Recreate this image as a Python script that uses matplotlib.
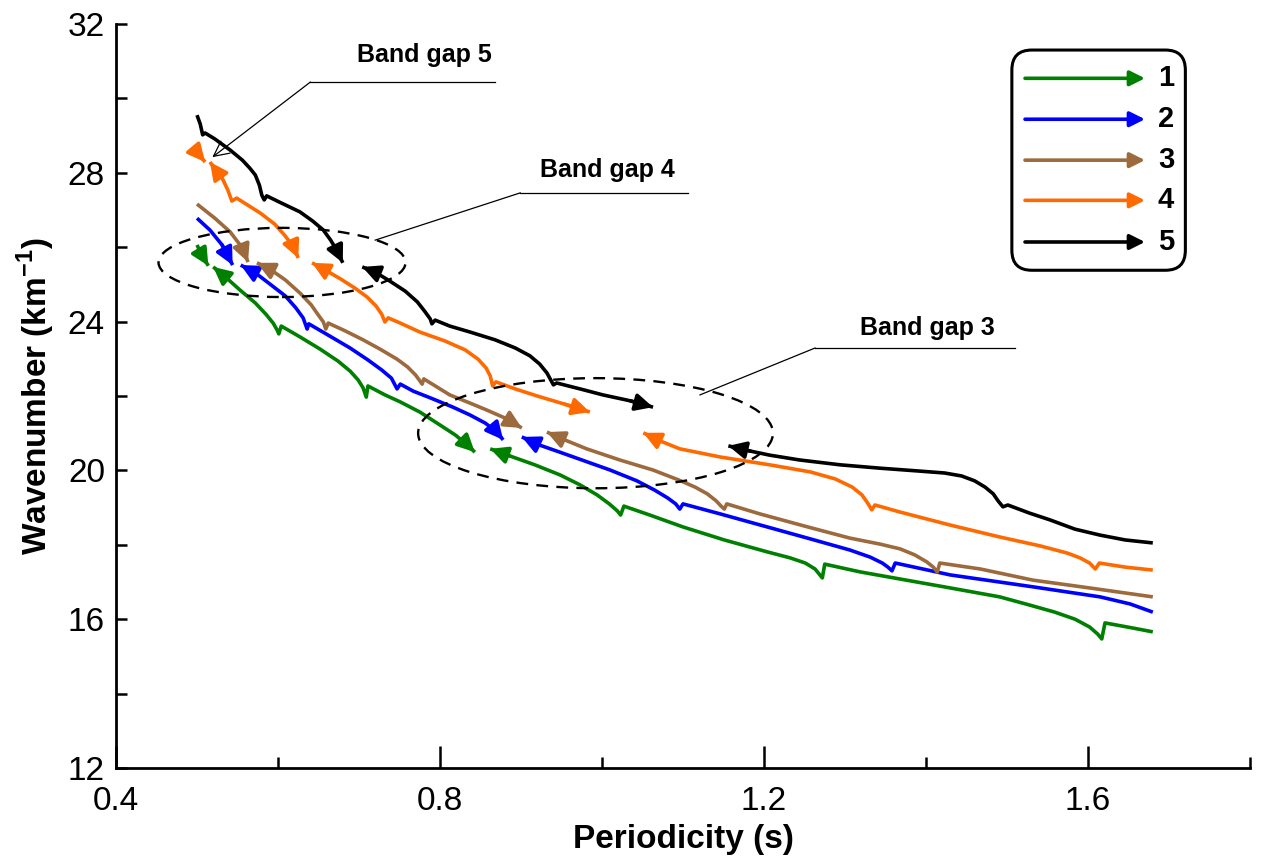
import matplotlib
matplotlib.use('Agg')
import matplotlib.pyplot as plt
from matplotlib.patches import Ellipse, FancyBboxPatch
from matplotlib.ticker import MultipleLocator

plt.rcParams['font.family'] = ['Liberation Sans', 'DejaVu Sans']
plt.rcParams['mathtext.fontset'] = 'custom'
plt.rcParams['mathtext.rm'] = 'Liberation Sans'
plt.rcParams['mathtext.bf'] = 'Liberation Sans:bold'

# ---------------- data (segments separated by band gaps) ----------------
labels = ['1', '2', '3', '4', '5']
colors = ['#008000', '#0000ff', '#9c6a3c', '#ff6a00', '#000000']

x1 = [[0.500, 0.506, 0.514],
      [0.520, 0.535, 0.553, 0.572, 0.585, 0.594, 0.599, 0.601, 0.604, 0.627, 0.652, 0.674, 0.689,
       0.699, 0.705, 0.709, 0.711, 0.732, 0.751, 0.775, 0.800, 0.819, 0.835, 0.843],
      [0.862, 0.886, 0.917, 0.948, 0.973, 0.994, 1.009, 1.019, 1.023, 1.027, 1.059, 1.100, 1.151,
       1.204, 1.232, 1.251, 1.263, 1.272, 1.275, 1.319, 1.368, 1.430, 1.491, 1.528, 1.559, 1.584,
       1.602, 1.612, 1.617, 1.621, 1.656, 1.680]]
y1 = [[26.06, 25.79, 25.50],
      [25.47, 25.20, 24.85, 24.50, 24.20, 23.96, 23.77, 23.67, 23.88, 23.59, 23.26, 22.94, 22.67,
       22.43, 22.22, 21.97, 22.27, 22.03, 21.84, 21.57, 21.22, 20.95, 20.66, 20.49],
      [20.58, 20.39, 20.15, 19.88, 19.61, 19.34, 19.10, 18.91, 18.80, 19.04, 18.80, 18.48, 18.13,
       17.81, 17.65, 17.51, 17.35, 17.11, 17.48, 17.27, 17.08, 16.84, 16.60, 16.38, 16.19, 16.00,
       15.79, 15.60, 15.47, 15.90, 15.76, 15.66]]

x2 = [[0.500, 0.516, 0.531, 0.544],
      [0.554, 0.572, 0.590, 0.609, 0.622, 0.631, 0.636, 0.638, 0.664, 0.689, 0.711, 0.728, 0.740,
       0.747, 0.751, 0.767, 0.788, 0.816, 0.837, 0.856, 0.870, 0.878],
      [0.901, 0.923, 0.948, 0.979, 1.010, 1.043, 1.065, 1.081, 1.091, 1.096, 1.100, 1.146, 1.204,
       1.257, 1.306, 1.331, 1.346, 1.353, 1.358, 1.362, 1.430, 1.532, 1.615, 1.652, 1.680]]
y2 = [[26.78, 26.46, 26.06, 25.52],
      [25.52, 25.31, 25.01, 24.69, 24.37, 24.10, 23.80, 23.94, 23.61, 23.29, 22.97, 22.70, 22.48,
       22.19, 22.32, 22.13, 21.95, 21.70, 21.49, 21.27, 21.03, 20.82],
      [20.90, 20.68, 20.49, 20.25, 20.01, 19.72, 19.47, 19.26, 19.10, 18.96, 19.10, 18.83, 18.48,
       18.16, 17.86, 17.67, 17.51, 17.40, 17.30, 17.51, 17.19, 16.87, 16.60, 16.41, 16.19]]

x3 = [[0.500, 0.522, 0.541, 0.556, 0.563],
      [0.574, 0.590, 0.609, 0.627, 0.641, 0.649, 0.656, 0.659, 0.662, 0.683, 0.705, 0.726, 0.747,
       0.760, 0.770, 0.778, 0.780, 0.812, 0.837, 0.858, 0.880, 0.901],
      [0.932, 0.954, 0.981, 1.022, 1.063, 1.095, 1.115, 1.130, 1.141, 1.147, 1.151, 1.154, 1.195,
       1.254, 1.306, 1.343, 1.368, 1.386, 1.401, 1.409, 1.414, 1.417, 1.467, 1.532, 1.602, 1.680]]
y3 = [[27.16, 26.78, 26.41, 25.98, 25.60],
      [25.58, 25.41, 25.12, 24.77, 24.45, 24.20, 23.99, 23.80, 23.96, 23.75, 23.51, 23.26, 22.99,
       22.78, 22.56, 22.32, 22.46, 22.03, 21.81, 21.62, 21.41, 21.14],
      [21.03, 20.82, 20.58, 20.28, 20.01, 19.74, 19.55, 19.37, 19.18, 19.04, 18.96, 19.10, 18.83,
       18.48, 18.18, 18.02, 17.89, 17.73, 17.54, 17.40, 17.27, 17.51, 17.35, 17.05, 16.84, 16.60]]

x4 = [[0.500, 0.505, 0.510],
      [0.516, 0.523, 0.531, 0.538, 0.543, 0.549, 0.578, 0.596, 0.609, 0.619, 0.625],
      [0.642, 0.658, 0.677, 0.695, 0.710, 0.721, 0.728, 0.732, 0.736, 0.751, 0.775, 0.806, 0.831,
       0.847, 0.857, 0.862, 0.865, 0.869, 0.893, 0.920, 0.954, 0.985],
      [1.051, 1.072, 1.096, 1.146, 1.207, 1.257, 1.288, 1.309, 1.321, 1.328, 1.333, 1.337, 1.368,
       1.430, 1.491, 1.541, 1.574, 1.590, 1.602, 1.609, 1.614, 1.646, 1.680]]
y4 = [[28.56, 28.42, 28.29],
      [28.29, 28.08, 27.86, 27.54, 27.24, 27.32, 26.92, 26.62, 26.30, 26.01, 25.71],
      [25.58, 25.39, 25.15, 24.90, 24.66, 24.42, 24.20, 23.99, 24.10, 23.96, 23.72, 23.48, 23.24,
       22.99, 22.75, 22.54, 22.27, 22.38, 22.19, 22.00, 21.78, 21.57],
      [21.01, 20.79, 20.58, 20.36, 20.15, 19.96, 19.77, 19.55, 19.34, 19.12, 18.94, 19.07, 18.88,
       18.53, 18.21, 17.97, 17.78, 17.65, 17.51, 17.35, 17.51, 17.40, 17.32]]

x5 = [[0.500, 0.504, 0.507, 0.510, 0.522, 0.541, 0.556, 0.565, 0.572, 0.577, 0.580, 0.583, 0.586,
       0.602, 0.627, 0.643, 0.656, 0.665, 0.673, 0.680],
      [0.704, 0.720, 0.738, 0.757, 0.772, 0.781, 0.788, 0.790, 0.794, 0.812, 0.837, 0.868, 0.893,
       0.911, 0.923, 0.932, 0.940, 0.944, 0.973, 1.001, 1.035, 1.063],
      [1.156, 1.183, 1.207, 1.244, 1.294, 1.343, 1.393, 1.423, 1.444, 1.460, 1.473, 1.483, 1.489,
       1.495, 1.501, 1.528, 1.553, 1.584, 1.615, 1.646, 1.680]]
y5 = [[29.55, 29.31, 29.02, 29.07, 28.91, 28.61, 28.34, 28.13, 27.94, 27.67, 27.40, 27.27, 27.38,
       27.21, 26.95, 26.70, 26.46, 26.19, 25.90, 25.58],
      [25.47, 25.33, 25.09, 24.82, 24.53, 24.28, 24.07, 23.94, 24.04, 23.88, 23.72, 23.51, 23.29,
       23.08, 22.86, 22.62, 22.30, 22.35, 22.19, 22.03, 21.87, 21.70],
      [20.66, 20.52, 20.41, 20.28, 20.15, 20.06, 19.98, 19.93, 19.85, 19.72, 19.55, 19.37, 19.18,
       19.02, 19.07, 18.85, 18.67, 18.42, 18.26, 18.13, 18.05]]

gap_labels = ['Band gap 5', 'Band gap 4', 'Band gap 3']

# ---------------- figure ----------------
fig = plt.figure(figsize=(12.67, 8.61), dpi=100)
ax = fig.add_axes([116 / 1267, 93 / 861, 1134 / 1267, 744 / 861])
ax.set_xlim(0.4, 1.8)
ax.set_ylim(12, 32)

all_x = [x1, x2, x3, x4, x5]
all_y = [y1, y2, y3, y4, y5]
LW = 2.6


def head(xy, xyt, c, ms=16):
    ax.annotate('', xy=xy, xytext=xyt,
                arrowprops=dict(arrowstyle='-|>,head_length=0.65,head_width=0.32',
                                mutation_scale=ms, color=c, lw=LW,
                                shrinkA=0, shrinkB=0))


for xs, ys, c in zip(all_x, all_y, colors):
    n = len(xs)
    for i, (sx, sy) in enumerate(zip(xs, ys)):
        ax.plot(sx, sy, color=c, lw=LW, solid_joinstyle='round', solid_capstyle='butt', zorder=3)
        if i > 0:
            head((sx[0], sy[0]), (sx[1], sy[1]), c)
        if i < n - 1:
            head((sx[-1], sy[-1]), (sx[-2], sy[-2]), c)

# dashed ellipses marking band gaps
ax.add_patch(Ellipse((0.605, 25.59), 0.305, 1.86, fill=False, ls=(0, (5, 3.5)), lw=1.7,
                     color='black', zorder=4))
ax.add_patch(Ellipse((0.992, 21.0), 0.438, 2.96, fill=False, ls=(0, (5, 3.5)), lw=1.7,
                     color='black', zorder=4))

# leader lines and labels
ax.plot([0.640, 0.868], [30.44, 30.44], color='black', lw=0.9)
ax.annotate('', xy=(0.519, 28.42), xytext=(0.640, 30.44),
            arrowprops=dict(arrowstyle='->,head_length=0.6,head_width=0.3', mutation_scale=18,
                            lw=0.9, color='black', shrinkA=0, shrinkB=0))
ax.plot([0.899, 1.106], [27.46, 27.46], color='black', lw=0.9)
ax.plot([0.899, 0.720], [27.46, 26.19], color='black', lw=0.9)
ax.plot([1.263, 1.510], [23.29, 23.29], color='black', lw=0.9)
ax.plot([1.263, 1.121], [23.29, 22.03], color='black', lw=0.9)

ax.text(0.781, 31.17, gap_labels[0], ha='center', va='center', fontsize=18, fontweight='bold')
ax.text(1.007, 28.08, gap_labels[1], ha='center', va='center', fontsize=18, fontweight='bold')
ax.text(1.402, 23.83, gap_labels[2], ha='center', va='center', fontsize=18, fontweight='bold')

# custom legend
box = FancyBboxPatch((0.790, 0.669), 0.153, 0.296, transform=ax.transAxes,
                     boxstyle='round,pad=0,rounding_size=0.0176', mutation_aspect=1134 / 744,
                     fill=False, lw=2.2, edgecolor='black', zorder=5)
ax.add_patch(box)
rows = [0.927, 0.872, 0.817, 0.763, 0.707]
for lab, c, ry in zip(labels, colors, rows):
    ax.annotate('', xy=(0.9074, ry), xytext=(0.8016, ry), xycoords='axes fraction',
                textcoords='axes fraction',
                arrowprops=dict(arrowstyle='-|>,head_length=0.6,head_width=0.3',
                                mutation_scale=15, color=c, lw=2.6, shrinkA=0, shrinkB=0))
    ax.text(0.926, ry, lab, transform=ax.transAxes, ha='center', va='center',
            fontsize=21, fontweight='bold')

# axes styling
for s in ['top', 'right']:
    ax.spines[s].set_visible(False)
for s in ['left', 'bottom']:
    ax.spines[s].set_linewidth(2.0)

ax.xaxis.set_major_locator(MultipleLocator(0.4))
ax.xaxis.set_minor_locator(MultipleLocator(0.2))
ax.yaxis.set_major_locator(MultipleLocator(4))
ax.yaxis.set_minor_locator(MultipleLocator(2))
ax.tick_params(axis='x', which='major', direction='in', length=16, width=1.8, labelsize=24, pad=13)
ax.tick_params(axis='x', which='minor', direction='in', length=8, width=1.8)
ax.tick_params(axis='y', which='both', direction='in', length=8, width=1.8, labelsize=24, pad=8)
ax.set_xticks([0.4, 0.8, 1.2, 1.6])
ax.set_xticklabels(['0.4', '0.8', '1.2', '1.6'])

ax.set_xlabel('Periodicity (s)', fontsize=24, fontweight='bold', labelpad=5)
ax.set_ylabel(r'Wavenumber (km$^{\mathbf{-1}}$)', fontsize=24, fontweight='bold', labelpad=8)

fig.savefig('out.png', dpi=100)
